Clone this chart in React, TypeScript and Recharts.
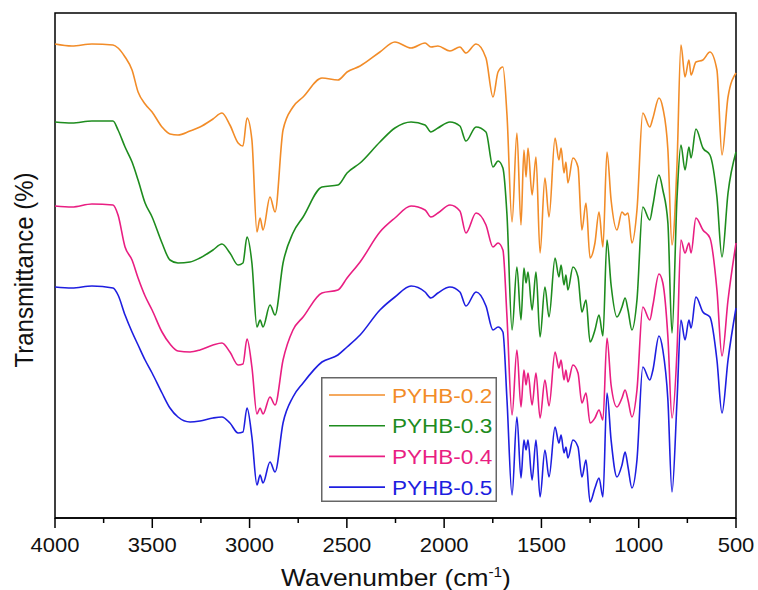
import React from 'react'
import { LineChart, Line, XAxis, YAxis, Legend, ReferenceArea } from 'recharts'

// wavenumber grid (cm-1)
const wavenumbers = [
  4000, 3913, 3810, 3702, 3676, 3640, 3604, 3573, 3537, 3501,
  3450, 3409, 3368, 3306, 3255, 3188, 3142, 3101, 3059, 3034,
  3013, 2988, 2962, 2946, 2931, 2895, 2869, 2828, 2777, 2725,
  2628, 2546, 2499, 2432, 2330, 2253, 2170, 2098, 2068, 2032,
  1970, 1919, 1888, 1836, 1785, 1749, 1723, 1698, 1677, 1651,
  1626, 1605, 1590, 1579, 1569, 1548, 1528, 1507, 1482, 1461,
  1430, 1410, 1399, 1384, 1374, 1364, 1338, 1312, 1292, 1271,
  1250, 1225, 1204, 1184, 1163, 1142, 1112, 1086, 1070, 1055,
  1035, 1009, 979, 943, 927, 896, 876, 850, 829, 803,
  783, 762, 742, 731, 706, 670, 634, 598, 572, 541, 500,
]

// offset transmittance, arbitrary units
const pyhb02 = [
  474, 472, 474, 473, 470, 461, 448, 426, 414, 406,
  391, 384, 383, 387, 391, 399, 405, 393, 375, 372,
  400, 378, 286, 300, 288, 321, 306, 388, 411, 421,
  440, 438, 446, 452, 466, 476, 470, 475, 471, 472,
  467, 471, 465, 474, 460, 421, 446, 451, 403, 296,
  385, 293, 368, 341, 370, 323, 361, 265, 340, 301,
  380, 358, 370, 345, 356, 335, 360, 351, 288, 315,
  260, 275, 306, 271, 366, 318, 288, 306, 303, 305,
  275, 308, 405, 391, 400, 420, 410, 368, 273, 355,
  473, 441, 458, 443, 456, 458, 466, 448, 363, 421, 445,
]

const pyhb03 = [
  396, 395, 397, 397, 388, 371, 356, 338, 315, 301,
  275, 258, 255, 256, 260, 268, 274, 265, 253, 255,
  281, 255, 191, 198, 191, 213, 203, 255, 285, 301,
  331, 333, 345, 355, 376, 390, 396, 393, 386, 390,
  396, 392, 377, 391, 386, 351, 357, 350, 303, 188,
  251, 198, 250, 235, 246, 208, 246, 181, 231, 201,
  260, 241, 253, 233, 243, 228, 251, 241, 206, 218,
  176, 188, 203, 182, 278, 233, 201, 211, 220, 208,
  188, 218, 311, 298, 313, 343, 328, 295, 185, 321,
  373, 348, 371, 360, 389, 370, 363, 321, 261, 325, 366,
]

const pyhb04 = [
  312, 311, 314, 313, 303, 271, 258, 240, 222, 208,
  186, 174, 167, 166, 168, 173, 175, 166, 153, 154,
  179, 151, 104, 110, 104, 121, 113, 158, 188, 201,
  225, 228, 240, 256, 286, 300, 312, 308, 301, 305,
  313, 307, 285, 305, 293, 271, 275, 268, 201, 103,
  168, 111, 148, 133, 145, 113, 145, 100, 138, 112,
  166, 150, 158, 138, 148, 136, 153, 145, 115, 125,
  95, 100, 108, 98, 180, 133, 111, 120, 128, 118,
  101, 128, 211, 198, 213, 244, 235, 181, 100, 168,
  278, 265, 275, 265, 300, 288, 280, 228, 162, 218, 275,
]

const pyhb05 = [
  231, 230, 232, 230, 223, 203, 186, 173, 158, 145,
  125, 110, 101, 96, 97, 100, 101, 95, 85, 86,
  110, 81, 33, 43, 35, 56, 46, 95, 121, 135,
  156, 163, 171, 183, 208, 221, 232, 226, 220, 225,
  231, 226, 212, 226, 212, 188, 191, 186, 118, 23,
  101, 40, 78, 68, 78, 38, 78, 21, 68, 41,
  91, 75, 83, 65, 71, 60, 78, 71, 41, 58,
  16, 30, 40, 21, 125, 78, 41, 53, 66, 51,
  30, 58, 151, 138, 148, 182, 168, 118, 26, 118,
  198, 178, 198, 190, 221, 206, 201, 158, 105, 158, 210,
]

const seriesNames = ['PYHB-0.2', 'PYHB-0.3', 'PYHB-0.4', 'PYHB-0.5']
const seriesKeys = ['p02', 'p03', 'p04', 'p05']
const seriesColors = ['#F28C28', '#1E8C1E', '#E91E82', '#1E1EE0']

const xTicks = [4000, 3750, 3500, 3250, 3000, 2750, 2500, 2250, 2000, 1750, 1500, 1250, 1000, 750, 500]

const data = wavenumbers.map((w, i) => ({
  w,
  p02: pyhb02[i],
  p03: pyhb03[i],
  p04: pyhb04[i],
  p05: pyhb05[i],
}))

const FONT = 'Arial, "Liberation Sans", sans-serif'
const AXIS_Y = 518

function WaveTick(props: any) {
  const { x, payload } = props
  const major = payload.value % 500 === 0
  return (
    <g>
      <line x1={x} x2={x} y1={AXIS_Y} y2={AXIS_Y + (major ? 10 : 5)} stroke="#000" strokeWidth={1.5} />
      {major && (
        <text
          transform={`translate(${x} ${AXIS_Y + 34}) scale(1.1 1)`}
          textAnchor="middle"
          fontSize={20}
          fontFamily={FONT}
          fill="#111"
        >
          {payload.value}
        </text>
      )}
    </g>
  )
}

function LegendBox() {
  return (
    <svg width={176} height={125} style={{ display: 'block' }}>
      <rect x={0.75} y={0.75} width={174.5} height={123.5} fill="#fff" stroke="#666" strokeWidth={1.5} />
      {seriesNames.map((name, i) => {
        const cy = 18 + i * 30.7
        return (
          <g key={name}>
            <line x1={8} x2={64} y1={cy} y2={cy} stroke={seriesColors[i]} strokeWidth={1.6} />
            <text
              transform={`translate(71 ${cy + 7.5}) scale(1.1 1)`}
              fontSize={20.5}
              fontFamily={FONT}
              fill={seriesColors[i]}
            >
              {name}
            </text>
          </g>
        )
      })}
    </svg>
  )
}

export default function App() {
  return (
    <div style={{ position: 'absolute', left: 0, top: 0, width: 758, height: 590, background: '#fff', fontFamily: FONT }}>
      <LineChart width={758} height={590} data={data} margin={{ top: 13, right: 22, bottom: 0, left: 55 }}>
        <XAxis
          dataKey="w"
          type="number"
          domain={[500, 4000]}
          reversed
          ticks={xTicks}
          interval={0}
          height={72}
          tickLine={false}
          axisLine={{ stroke: '#000', strokeWidth: 1.5 }}
          tick={<WaveTick />}
        />
        <YAxis hide domain={[0, 505]} />
        <ReferenceArea x1={4000} x2={500} y1={0} y2={505} fill="none" stroke="#000" strokeWidth={1.5} ifOverflow="visible" />
        {seriesKeys.map((k, i) => (
          <Line
            key={k}
            type="monotone"
            dataKey={k}
            name={seriesNames[i]}
            stroke={seriesColors[i]}
            strokeWidth={1.6}
            dot={false}
            isAnimationActive={false}
          />
        ))}
        <Legend
          layout="vertical"
          align="center"
          verticalAlign="middle"
          content={() => <LegendBox />}
          wrapperStyle={{ left: 321, top: 377, width: 176, height: 125 }}
        />
      </LineChart>
      <div
        style={{
          position: 'absolute',
          left: 24,
          top: 270,
          transform: 'translate(-50%, -50%) scaleX(1.1) rotate(-90deg)',
          fontSize: 24,
          whiteSpace: 'nowrap',
          color: '#111',
        }}
      >
        Transmittance (%)
      </div>
      <div
        style={{
          position: 'absolute',
          left: 396,
          top: 578,
          transform: 'translate(-50%, -50%) scaleX(1.1)',
          fontSize: 24,
          whiteSpace: 'nowrap',
          color: '#111',
          lineHeight: '28px',
        }}
      >
        Wavenumber (cm<sup style={{ fontSize: 14, lineHeight: 0, verticalAlign: 9 }}>-1</sup>)
      </div>
    </div>
  )
}
